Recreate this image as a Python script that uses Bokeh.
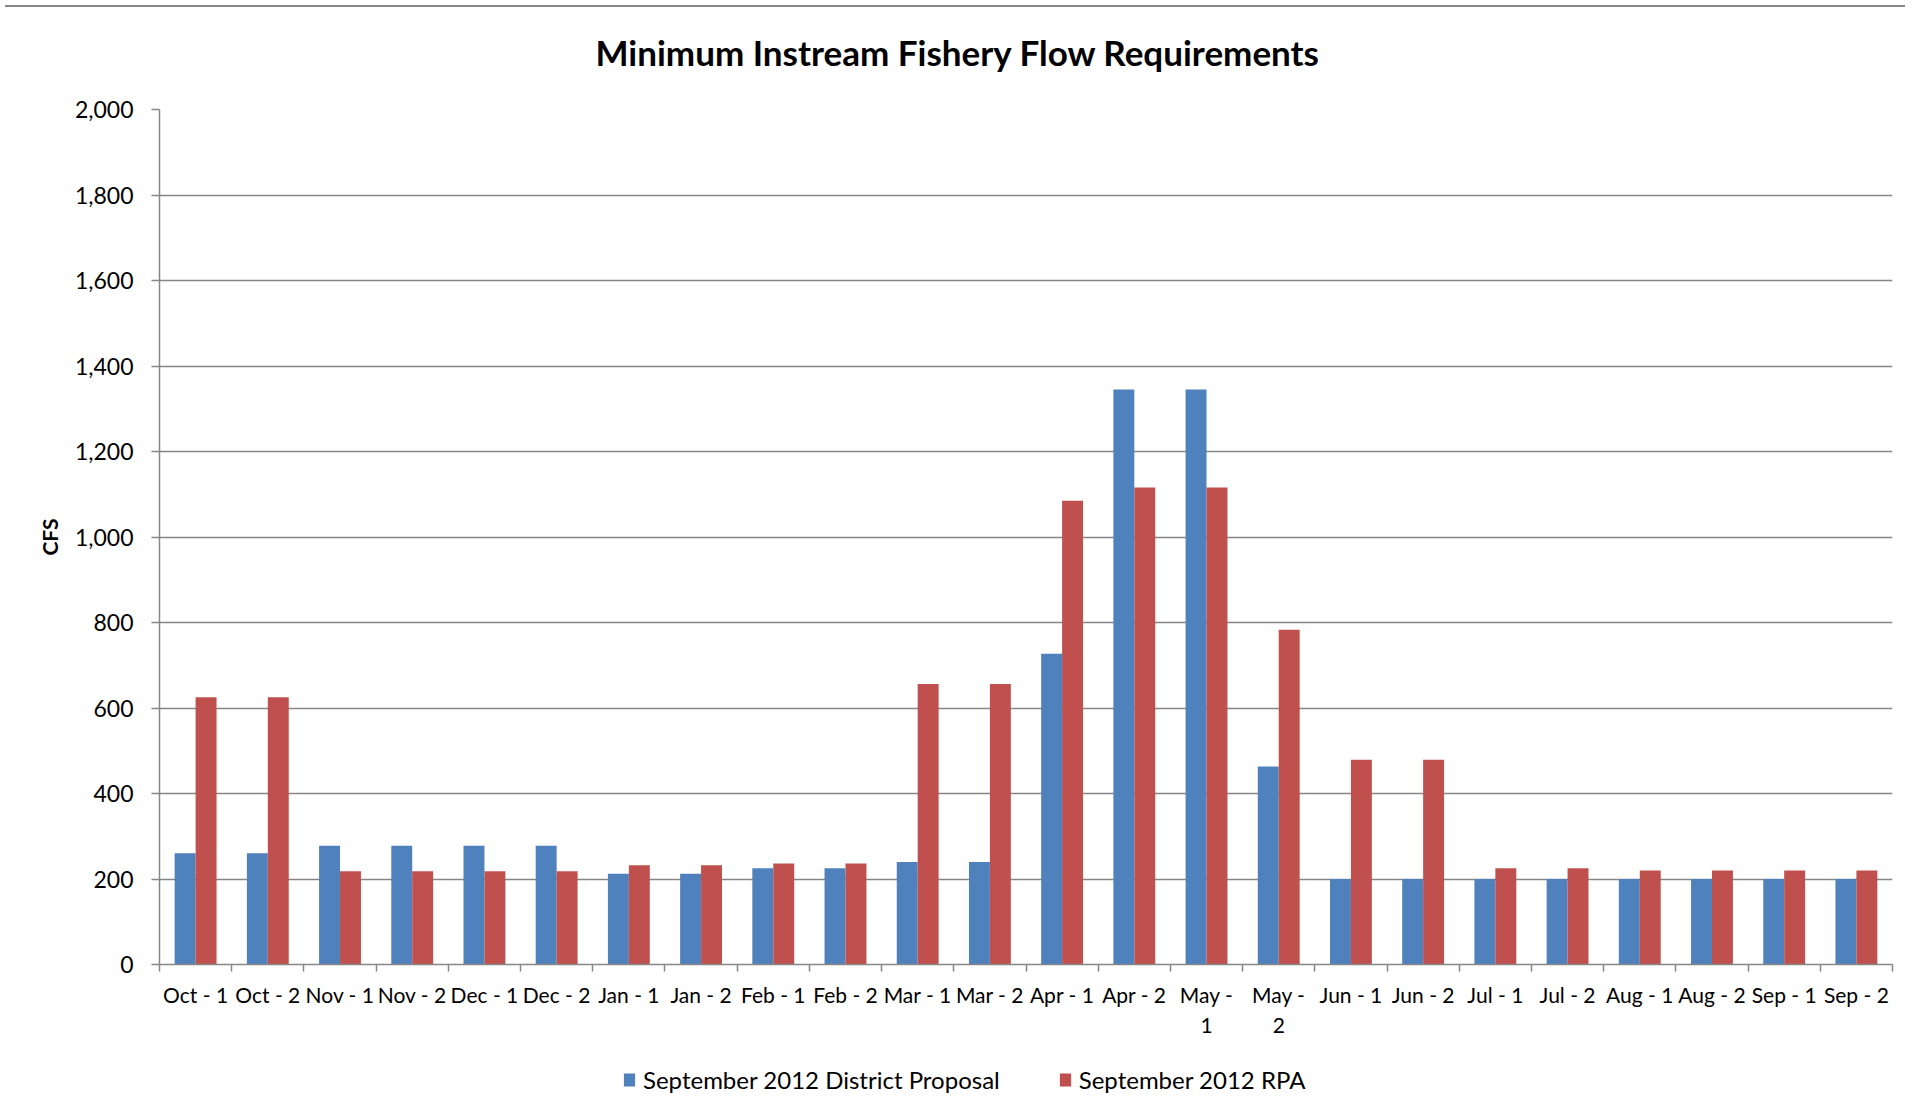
from bokeh.plotting import figure
from bokeh.models import (FactorRange, Range1d, LinearAxis, FixedTicker,
                          NumeralTickFormatter, Legend, LegendItem, ColumnDataSource, Div)
from bokeh.transform import dodge
from bokeh.layouts import column
from bokeh.embed import file_html
from bokeh.resources import INLINE

# ---- data ----
categories = ["Oct - 1", "Oct - 2", "Nov - 1", "Nov - 2", "Dec - 1", "Dec - 2",
              "Jan - 1", "Jan - 2", "Feb - 1", "Feb - 2", "Mar - 1", "Mar - 2",
              "Apr - 1", "Apr - 2", "May - 1", "May - 2", "Jun - 1", "Jun - 2",
              "Jul - 1", "Jul - 2", "Aug - 1", "Aug - 2", "Sep - 1", "Sep - 2"]
district_proposal = [260, 260, 278, 278, 278, 278, 212, 212, 225, 225, 240, 240,
                     727, 1345, 1345, 463, 200, 200, 200, 200, 200, 200, 200, 200]
rpa = [625, 625, 218, 218, 218, 218, 232, 232, 236, 236, 656, 656,
       1085, 1116, 1116, 783, 479, 479, 225, 225, 220, 220, 220, 220]
y_ticks = list(range(0, 2001, 200))
series_names = ["September 2012 District Proposal", "September 2012 RPA"]
title_text = "Minimum Instream Fishery Flow Requirements"
y_title = "CFS"
wrapped_labels = {"May - 1": "May -\n1", "May - 2": "May -\n2"}

FONT = "Lato"
GRAY = "#868686"
BLUE = "#4F81BD"
RED = "#C0504D"

src = ColumnDataSource(dict(cat=categories, district=district_proposal, rpa=rpa))
x_range = FactorRange(*categories)


def bare_strip(height, y_range, **kw):
    f = figure(width=1900, height=height, x_range=x_range, y_range=y_range,
               output_backend="svg", toolbar_location=None,
               x_axis_location=None, y_axis_location=None, min_border=0, **kw)
    f.outline_line_color = None
    f.xgrid.visible = False
    f.ygrid.visible = False
    return f


# ---- title strip ----
head = bare_strip(82, Range1d(0, 1), title=title_text)
head.title.text_font = FONT
head.title.text_font_style = "bold"
head.title.text_font_size = "35px"
head.title.text_color = "black"
head.title.align = "left"
head.title.offset = 436
head.title.standoff = 32

# ---- main chart ----
p = figure(x_range=x_range, y_range=Range1d(0, 2000),
           frame_width=1733, frame_height=855, output_backend="svg",
           toolbar_location=None, x_axis_location=None,
           min_border_left=159, min_border_right=8,
           min_border_top=15, min_border_bottom=95)
p.outline_line_color = None
p.background_fill_color = "white"
p.border_fill_color = "white"

# grid
p.xgrid.visible = False
p.ygrid.grid_line_color = GRAY
p.ygrid.grid_line_width = 1.5
p.ygrid.ticker = FixedTicker(ticks=y_ticks)

# y axis
ya = p.yaxis[0]
ya.ticker = FixedTicker(ticks=y_ticks)
ya.formatter = NumeralTickFormatter(format="0,0")
ya.axis_line_color = GRAY
ya.axis_line_width = 1.5
ya.major_tick_line_color = GRAY
ya.major_tick_line_width = 1.5
ya.major_tick_in = 0
ya.major_tick_out = 8
ya.minor_tick_line_color = None
ya.major_label_text_font = FONT
ya.major_label_text_font_size = "23px"
ya.major_label_text_color = "black"
ya.major_label_standoff = 18
ya.axis_label = y_title
ya.axis_label_text_font = FONT
ya.axis_label_text_font_style = "bold"
ya.axis_label_text_font_size = "21px"
ya.axis_label_text_color = "black"
ya.axis_label_standoff = 10

# x axis: labels at category centres, tick marks at category boundaries
centers = [i + 0.5 for i in range(len(categories))]
bounds = list(range(len(categories) + 1))
x_labels = {c: wrapped_labels.get(cat, cat) for c, cat in zip(centers, categories)}
xa = LinearAxis(ticker=FixedTicker(ticks=centers, minor_ticks=bounds),
                major_label_overrides=x_labels,
                major_tick_line_color=None, major_tick_in=0, major_tick_out=7,
                minor_tick_line_color=GRAY, minor_tick_line_width=1.5,
                minor_tick_in=0, minor_tick_out=7,
                axis_line_color=GRAY, axis_line_width=1.5,
                major_label_text_font=FONT, major_label_text_font_size="21px",
                major_label_text_color="black", major_label_standoff=10)
p.add_layout(xa, "below")

# bars
bar_kw = dict(width=0.29, source=src, line_color=None)
r1 = p.vbar(x=dodge("cat", -0.145, range=x_range), top="district", fill_color=BLUE, **bar_kw)
r2 = p.vbar(x=dodge("cat", 0.145, range=x_range), top="rpa", fill_color=RED, **bar_kw)

# ---- legend strip (same series; its y range lies far above the data, so no bars show) ----
leg = bare_strip(40, Range1d(10000, 10001))
l1 = leg.vbar(x=dodge("cat", -0.145, range=x_range), top="district", fill_color=BLUE, **bar_kw)
l2 = leg.vbar(x=dodge("cat", 0.145, range=x_range), top="rpa", fill_color=RED, **bar_kw)

legend = Legend(items=[LegendItem(label=series_names[0], renderers=[l1]),
                       LegendItem(label=series_names[1], renderers=[l2])],
                orientation="horizontal", location="left", margin=463,
                border_line_color=None, background_fill_alpha=0,
                glyph_width=14, glyph_height=16, label_standoff=7, spacing=58,
                label_text_font=FONT, label_text_font_size="24px",
                label_text_color="black", padding=0)
leg.add_layout(legend, "center")

top_line = Div(width=1900, height=2, styles={"background-color": GRAY})

layout = column(top_line, head, p, leg)
open("out.html", "w").write(file_html(layout, INLINE))
